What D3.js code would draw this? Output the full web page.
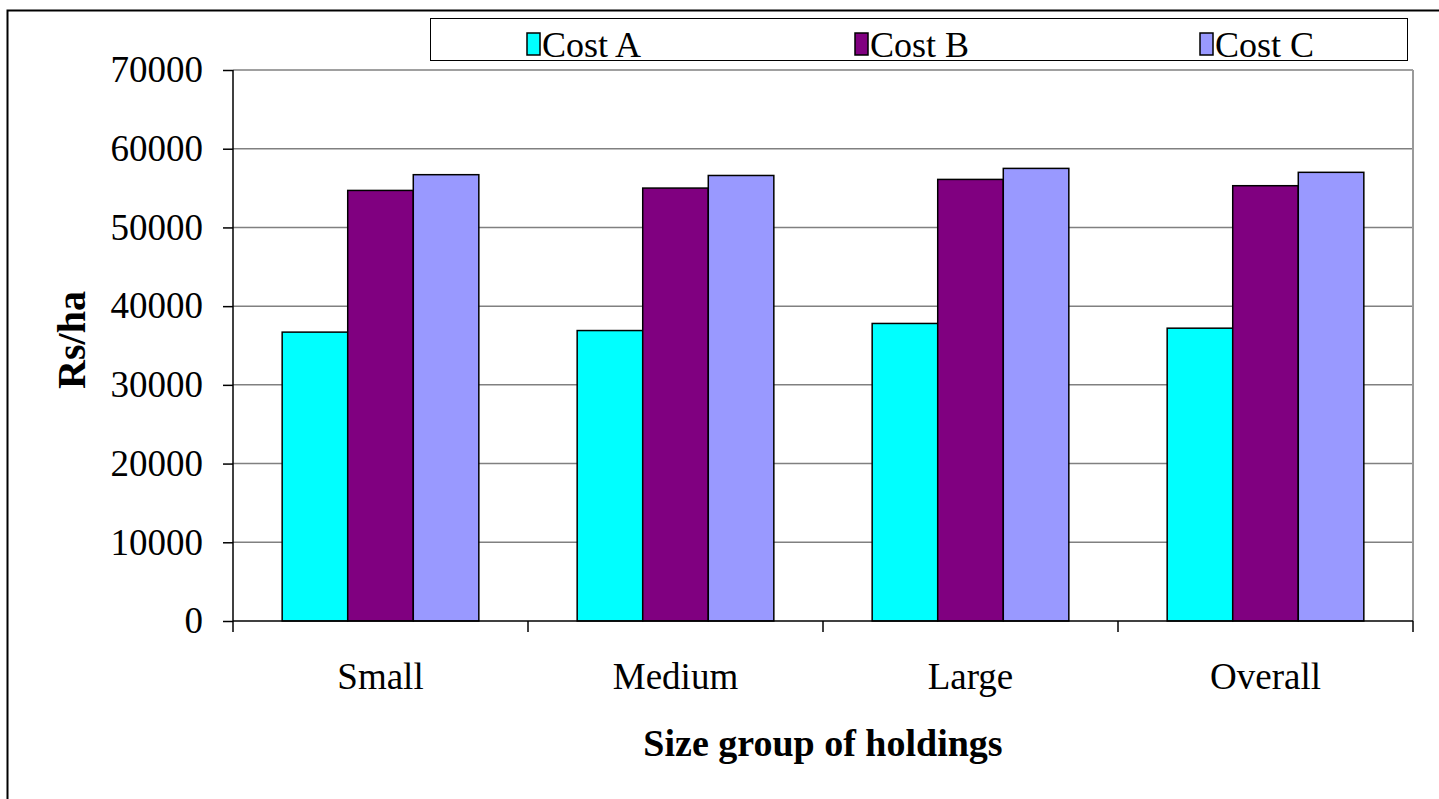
<!DOCTYPE html>
<html>
<head>
<meta charset="utf-8">
<script src="https://cdn.jsdelivr.net/npm/d3@7"></script>
<style>
  body { margin: 0; background: #fff; }
  svg { display: block; font-family: "Liberation Serif", "Times New Roman", serif; }
</style>
</head>
<body>
<div id="chart"></div>
<script>
// data
const groups = ["Small", "Medium", "Large", "Overall"];
const series = ["Cost A", "Cost B", "Cost C"];
const costA = [36700, 36900, 37800, 37200];
const costB = [54700, 55000, 56100, 55300];
const costC = [56700, 56600, 57500, 57000];
const yTicks = [0, 10000, 20000, 30000, 40000, 50000, 60000, 70000];
const colors = ["#00ffff", "#800080", "#9999ff"];

const W = 1439, H = 799;
const margin = { top: 70, right: 26, bottom: 178, left: 233 };
const width = W - margin.left - margin.right;
const height = H - margin.top - margin.bottom;
const fs = 37;

const svg = d3.select("#chart").append("svg")
    .attr("width", W)
    .attr("height", H);

// outer frame
svg.append("rect")
    .attr("x", 7.5).attr("y", 10.5)
    .attr("width", W).attr("height", H)
    .attr("fill", "none")
    .attr("stroke", "#000")
    .attr("stroke-width", 2);

const g = svg.append("g")
    .attr("transform", "translate(" + margin.left + "," + margin.top + ")");

const x0 = d3.scaleBand().domain(groups).range([0, width]).paddingInner(0).paddingOuter(0);
// gap width 150% of bar => group takes 3/(3+1.5) of band
const barW = x0.bandwidth() / 4.5;
const x1 = d3.scaleBand().domain(series).range([0, barW * 3]);
const y = d3.scaleLinear().domain([0, 70000]).range([height, 0]);

// gridlines
g.selectAll(".grid")
    .data(yTicks.filter(d => d > 0))
    .enter().append("line")
    .attr("x1", 0).attr("x2", width)
    .attr("y1", d => y(d)).attr("y2", d => y(d))
    .attr("stroke", "#808080")
    .attr("stroke-width", 1.5);

// plot area right border
g.append("line")
    .attr("x1", width).attr("x2", width)
    .attr("y1", 0).attr("y2", height)
    .attr("stroke", "#9a9a9a")
    .attr("stroke-width", 2);

// bars
const rows = groups.map((grp, i) => ({ grp, vals: [costA[i], costB[i], costC[i]] }));
const grpSel = g.selectAll(".grp")
    .data(rows)
    .enter().append("g")
    .attr("transform", d => "translate(" + (x0(d.grp) + barW * 0.75) + ",0)");

grpSel.selectAll("rect")
    .data(d => d.vals.map((v, j) => ({ s: series[j], v, j })))
    .enter().append("rect")
    .attr("x", d => x1(d.s))
    .attr("y", d => y(d.v))
    .attr("width", x1.bandwidth())
    .attr("height", d => height - y(d.v))
    .attr("fill", d => colors[d.j])
    .attr("stroke", "#000")
    .attr("stroke-width", 1.5);

// y axis
const yAxis = d3.axisLeft(y).tickValues(yTicks).tickSize(10).tickPadding(20).tickFormat(d3.format("d"));
g.append("g")
    .call(yAxis)
    .call(a => a.select(".domain").attr("stroke", "#000").attr("stroke-width", 1.5).attr("d", "M0,0V" + height))
    .call(a => a.selectAll(".tick line").attr("stroke", "#000").attr("stroke-width", 1.5))
    .call(a => a.selectAll("text").attr("font-size", fs).attr("fill", "#000").attr("font-family", "Liberation Serif"));

// x axis line + ticks at category boundaries
g.append("line")
    .attr("x1", 0).attr("x2", width)
    .attr("y1", height).attr("y2", height)
    .attr("stroke", "#000").attr("stroke-width", 1.5);
g.selectAll(".xtick")
    .data(d3.range(groups.length + 1))
    .enter().append("line")
    .attr("x1", i => i * x0.bandwidth()).attr("x2", i => i * x0.bandwidth())
    .attr("y1", height).attr("y2", height + 11)
    .attr("stroke", "#000").attr("stroke-width", 1.5);

g.selectAll(".xlab")
    .data(groups)
    .enter().append("text")
    .attr("x", d => x0(d) + x0.bandwidth() / 2)
    .attr("y", height + 68)
    .attr("text-anchor", "middle")
    .attr("font-size", fs)
    .text(d => d);

// axis titles
svg.append("text")
    .attr("x", margin.left + width / 2)
    .attr("y", 756)
    .attr("text-anchor", "middle")
    .attr("font-size", 38)
    .attr("font-weight", "bold")
    .text("Size group of holdings");

svg.append("text")
    .attr("transform", "translate(85,340) rotate(-90)")
    .attr("text-anchor", "middle")
    .attr("font-size", 40)
    .attr("font-weight", "bold")
    .text("Rs/ha");

// legend
const legend = svg.append("g");
legend.append("rect")
    .attr("x", 430.5).attr("y", 18.5)
    .attr("width", 977).attr("height", 42)
    .attr("fill", "#fff")
    .attr("stroke", "#000")
    .attr("stroke-width", 1);

const legX = [527, 855, 1200];
const item = legend.selectAll(".item")
    .data(series)
    .enter().append("g")
    .attr("transform", (d, i) => "translate(" + legX[i] + ",0)");
item.append("rect")
    .attr("x", 0).attr("y", 33)
    .attr("width", 13).attr("height", 22)
    .attr("fill", (d, i) => colors[i])
    .attr("stroke", "#000")
    .attr("stroke-width", 1.5);
item.append("text")
    .attr("x", 15).attr("y", 57)
    .attr("font-size", 36)
    .text(d => d);
</script>
</body>
</html>
